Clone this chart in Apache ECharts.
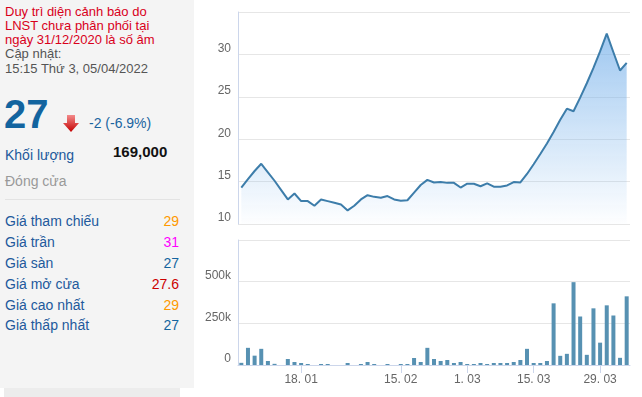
<!DOCTYPE html>
<html>
<head>
<meta charset="utf-8">
<script src="https://cdn.jsdelivr.net/npm/echarts@6/dist/echarts.min.js"></script>
<style>
  html, body { margin:0; padding:0; width:642px; height:397px; background:#fff; overflow:hidden;
    font-family: "Liberation Sans", Arial, "DejaVu Sans", sans-serif; }
  #panel { position:absolute; left:0; top:0; width:194px; height:388px; background:#f4f4f4; }
  #strip { position:absolute; left:4px; top:388px; width:176px; height:9px; background:#ececec; }
  .t { position:absolute; white-space:nowrap; }
  .h { font-size:13px; line-height:15px; left:5px; }
  .red { color:#d9001b; }
  .gray { color:#555; }
  .lab { font-size:14px; line-height:16px; left:5px; color:#22599c; }
  .val { font-size:14px; line-height:16px; right:15px; text-align:right; }
  #sep { position:absolute; left:5px; top:199px; width:175px; height:1px; background:#e3e3e3; }
  #chart { position:absolute; left:0; top:0; width:642px; height:397px; }
</style>
</head>
<body>
<div id="panel">
  <div class="t h red" style="top:4px">Duy trì diện cảnh báo do</div>
  <div class="t h red" style="top:18px">LNST chưa phân phối tại</div>
  <div class="t h red" style="top:31.7px">ngày 31/12/2020 là số âm</div>
  <div class="t h gray" style="top:45.7px">Cập nhật:</div>
  <div class="t h gray" style="top:61.3px">15:15 Thứ 3, 05/04/2022</div>
  <div class="t" style="left:4px; top:94.4px; font-size:40px; line-height:40px; font-weight:bold; color:#13649f">27</div>
  <svg style="position:absolute; left:62px; top:114px" width="18" height="19" viewBox="0 0 18 19">
    <defs><linearGradient id="ag" x1="0" y1="0" x2="0" y2="1">
      <stop offset="0" stop-color="#f38a8a"/><stop offset="1" stop-color="#c40000"/></linearGradient></defs>
    <path d="M5 1 H13 V9 H17 L9 18 L1 9 H5 Z" fill="url(#ag)"/>
  </svg>
  <div class="t" style="left:89px; top:115px; font-size:14px; line-height:16px; color:#1a64a0">-2 (-6.9%)</div>
  <div class="t lab" style="top:146.5px">Khối lượng</div>
  <div class="t" style="left:113px; top:143.3px; font-size:15px; line-height:17px; font-weight:bold; color:#111">169,000</div>
  <div class="t" style="left:5px; top:172.9px; font-size:14px; line-height:16px; color:#999">Đóng cửa</div>
  <div id="sep"></div>
  <div class="t lab" style="top:212.9px">Giá tham chiếu</div><div class="t val" style="top:212.9px; color:#ff9900">29</div>
  <div class="t lab" style="top:233.8px">Giá trần</div><div class="t val" style="top:233.8px; color:#f0f">31</div>
  <div class="t lab" style="top:254.7px">Giá sàn</div><div class="t val" style="top:254.7px; color:#13649f">27</div>
  <div class="t lab" style="top:275.6px">Giá mở cửa</div><div class="t val" style="top:275.6px; color:#cc0000">27.6</div>
  <div class="t lab" style="top:296.5px">Giá cao nhất</div><div class="t val" style="top:296.5px; color:#ff9900">29</div>
  <div class="t lab" style="top:317.4px">Giá thấp nhất</div><div class="t val" style="top:317.4px; color:#13649f">27</div>
</div>
<div id="strip"></div>
<div id="chart"></div>
<script>
// Trading days (dd/mm, 2022)
const dates = [
  '05/01','06/01','07/01','10/01','11/01','12/01','13/01','14/01','17/01','18/01',
  '19/01','20/01','21/01','24/01','25/01','26/01','27/01','28/01',
  '07/02','08/02','09/02','10/02','11/02','14/02','15/02','16/02','17/02','18/02',
  '21/02','22/02','23/02','24/02','25/02','28/02',
  '01/03','02/03','03/03','04/03','07/03','08/03','09/03','10/03','11/03','14/03',
  '15/03','16/03','17/03','18/03','21/03','22/03','23/03','24/03','25/03','28/03',
  '29/03','30/03','31/03','01/04','04/04'
];
// Close price (thousand VND)
const price = [
  14.3, 15.3, 16.25, 17.1, 16.1, 15.1, 14.0, 12.9, 13.6, 12.7,
  12.7, 12.15, 12.9, 12.7, 12.5, 12.3, 11.6, 12.15,
  12.9, 13.4, 13.2, 13.1, 13.3, 12.9, 12.75, 12.8, 13.7, 14.6,
  15.2, 14.9, 14.95, 14.85, 14.85, 14.3,
  14.75, 14.75, 14.45, 14.8, 14.4, 14.4, 14.55, 14.95, 14.9, 15.9,
  17.05, 18.25, 19.5, 20.85, 22.3, 23.6, 23.3, 24.9, 26.6, 28.4,
  30.35, 32.45, 30.25, 28.1, 29.0
];
// Volume (shares)
const volume = [
  13000, 103000, 56000, 97000, 24000, 7000, 0, 36000, 18000, 12000,
  6000, 0, 6000, 6000, 0, 0, 12000, 0,
  6000, 18000, 6000, 0, 6000, 0, 6000, 6000, 42000, 18000,
  103000, 36000, 24000, 30000, 12000, 18000,
  6000, 6000, 12000, 6000, 12000, 12000, 12000, 18000, 30000, 97000,
  12000, 12000, 24000, 370000, 55000, 67000, 497000, 291000, 61000, 340000,
  134000, 358000, 297000, 43000, 412000
];
const tickDates = ['18/01','15/02','01/03','15/03','29/03'];
const tickLabels = ['18. 01','15. 02','1. 03','15. 03','29. 03'];
const priceAxisLabels = ['10','15','20','25','30'];
const volAxisLabels = ['0','250k','500k'];

const axisColor = '#ccd6eb', gridColor = '#e6e6e6', labelColor = '#666666';
const font = '"Liberation Sans", Arial, sans-serif';
const isTick = (i, v) => tickDates.indexOf(v) >= 0;

const chart = echarts.init(document.getElementById('chart'), null, {renderer:'canvas'});
chart.setOption({
  animation: false,
  backgroundColor: 'transparent',
  textStyle: { fontFamily: font },
  grid: [
    { left: 238, right: 12, top: 12, height: 212 },
    { left: 238, right: 12, top: 240, height: 125 }
  ],
  xAxis: [
    { type:'category', gridIndex:0, data:dates, boundaryGap:true,
      axisLine:{show:false}, axisTick:{show:false}, axisLabel:{show:false}, splitLine:{show:false} },
    { type:'category', gridIndex:1, data:dates, boundaryGap:true,
      axisLine:{show:true, lineStyle:{color:axisColor, width:1}},
      axisTick:{show:true, alignWithLabel:true, interval:isTick, length:8, lineStyle:{color:axisColor}},
      axisLabel:{show:true, interval:isTick, color:labelColor, fontSize:12, fontFamily:font, margin:9,
        formatter: v => tickLabels[tickDates.indexOf(v)] || ''},
      splitLine:{show:false} }
  ],
  yAxis: [
    { type:'value', gridIndex:0, min:10, max:35, interval:5,
      axisLine:{show:true, lineStyle:{color:axisColor}}, axisTick:{show:false},
      splitLine:{show:true, lineStyle:{color:gridColor}},
      axisLabel:{color:labelColor, fontSize:12, fontFamily:font, margin:7, verticalAlign:'bottom', lineHeight:12,
        formatter: v => priceAxisLabels[Math.round((v-10)/5)] || ''} },
    { type:'value', gridIndex:1, min:0, max:750000, interval:250000,
      axisLine:{show:true, lineStyle:{color:axisColor}}, axisTick:{show:false},
      splitLine:{show:true, lineStyle:{color:gridColor}},
      axisLabel:{color:labelColor, fontSize:12, fontFamily:font, margin:7, verticalAlign:'bottom', lineHeight:12,
        formatter: v => volAxisLabels[Math.round(v/250000)] || ''} }
  ],
  series: [
    { type:'line', xAxisIndex:0, yAxisIndex:0, data:price, symbol:'none', smooth:false,
      lineStyle:{color:'#3d7daa', width:2}, itemStyle:{color:'#3d7daa'},
      areaStyle:{ origin:'start', color: new echarts.graphic.LinearGradient(0,0,0,1,[
        {offset:0, color:'rgba(118,176,234,1)'},
        {offset:1, color:'rgba(124,181,236,0.02)'}]) } },
    { type:'bar', xAxisIndex:1, yAxisIndex:1, data:volume, barWidth:4,
      itemStyle:{color:'#5791b2'} }
  ]
});
</script>
</body>
</html>
